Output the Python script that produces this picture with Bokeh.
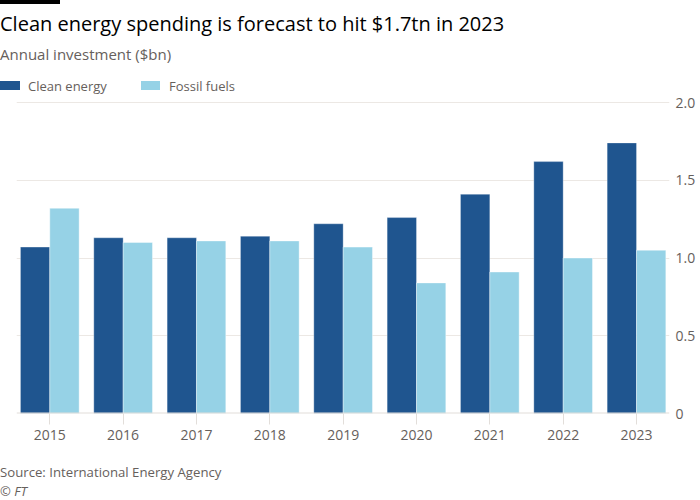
from bokeh.plotting import figure
from bokeh.layouts import column
from bokeh.models import Range1d, FixedTicker, Span, ColumnDataSource, Div
from bokeh.transform import dodge
from bokeh.embed import file_html
from bokeh.resources import INLINE

# ---- data ----
years = [2015, 2016, 2017, 2018, 2019, 2020, 2021, 2022, 2023]
clean_energy = [1.07, 1.13, 1.13, 1.14, 1.22, 1.26, 1.41, 1.62, 1.74]
fossil_fuels = [1.32, 1.10, 1.11, 1.11, 1.07, 0.84, 0.91, 1.00, 1.05]
y_ticks = [0, 0.5, 1.0, 1.5, 2.0]
y_tick_labels = ["0", "0.5", "1.0", "1.5", "2.0"]
series_names = ["Clean energy", "Fossil fuels"]

title_text = "Clean energy spending is forecast to hit $1.7tn in 2023"
subtitle_text = "Annual investment ($bn)"
source_text = "Source: International Energy Agency"
credit_text = "&copy; FT"

# ---- style ----
FONT = "Open Sans"
GREY = "#66605C"
DARK = "#1F558F"
LIGHT = "#96D2E6"
GRID = "#ECE8E4"
W = 700
OVERLAP = 10


def txt(s, left, top, size, color, italic=False):
    st = "italic" if italic else "normal"
    return (f'<div style="position:absolute;left:{left}px;top:{top}px;'
            f'font-family:\'{FONT}\';font-size:{size}px;line-height:{size}px;'
            f'font-style:{st};color:{color};white-space:nowrap;">{s}</div>')


def box(left, top, w, h, color):
    return (f'<div style="position:absolute;left:{left}px;top:{top}px;'
            f'width:{w}px;height:{h}px;background:{color};"></div>')


# ---- header ----
header_html = (
    f'<div style="position:relative;width:{W}px;height:100px;">'
    + box(0, 0, 60, 4, "#000000")
    + txt(title_text, 0, 13.9, 20, "#000000")
    + txt(subtitle_text, 0, 47.4, 15, GREY)
    + box(0, 81, 20, 9, DARK)
    + txt(series_names[0], 28, 80.2, 13, GREY)
    + box(141, 81, 19, 9, LIGHT)
    + txt(series_names[1], 169, 80.2, 13, GREY)
    + '</div>'
)
header = Div(text=header_html, width=W, height=100, margin=0)

# ---- main chart ----
src = ColumnDataSource(dict(year=years, clean=clean_energy, fossil=fossil_fuels))

p = figure(width=W, height=360 + OVERLAP, output_backend="svg", toolbar_location=None,
           x_range=Range1d(years[0] - 0.454, years[-1] + 0.45),
           y_range=Range1d(0, 2.0129),
           y_axis_location="right",
           min_border_left=16, min_border_right=31,
           min_border_top=OVERLAP, min_border_bottom=47,
           background_fill_color="white", border_fill_alpha=0,
           outline_line_color=None, margin=(-OVERLAP, 0, 0, 0))

p.vbar(x=dodge("year", -0.2, range=p.x_range), top="clean", width=0.4, source=src,
       fill_color=DARK, line_color="white", line_alpha=0.3, line_width=1)
p.vbar(x=dodge("year", 0.2, range=p.x_range), top="fossil", width=0.4, source=src,
       fill_color=LIGHT, line_color="white", line_alpha=0.4, line_width=1)

p.xgrid.visible = False
p.ygrid.ticker = FixedTicker(ticks=y_ticks)
p.ygrid.grid_line_color = GRID
p.add_layout(Span(location=0, dimension="width", line_color="#E2DEDA", line_width=2))

xa = p.xaxis[0]
xa.ticker = FixedTicker(ticks=years)
xa.major_label_overrides = {y: str(y) for y in years}
xa.axis_line_color = None
xa.major_tick_in = 0
xa.major_tick_out = 11
xa.major_tick_line_color = "#E2DEDA"
xa.minor_tick_out = 0
xa.minor_tick_in = 0
xa.major_label_standoff = 5
xa.major_label_text_font = FONT
xa.major_label_text_font_size = "14px"
xa.major_label_text_color = GREY

ya = p.yaxis[0]
ya.ticker = FixedTicker(ticks=y_ticks)
ya.major_label_overrides = dict(zip(y_ticks, y_tick_labels))
ya.axis_line_color = None
ya.major_tick_in = 0
ya.major_tick_out = 0
ya.minor_tick_in = 0
ya.minor_tick_out = 0
ya.major_label_standoff = 6
ya.major_label_text_font = FONT
ya.major_label_text_font_size = "14px"
ya.major_label_text_color = GREY

# ---- footer ----
footer_html = (
    f'<div style="position:relative;width:{W}px;height:40px;overflow:hidden;">'
    + txt(source_text, 0, 5.6, 13.2, GREY)
    + txt(credit_text, 0, 25.2, 13, GREY, italic=True)
    + '</div>'
)
footer = Div(text=footer_html, width=W, height=40, margin=0)

layout = column(header, p, footer, spacing=0, margin=0)
open("out.html", "w").write(file_html(layout, INLINE))
